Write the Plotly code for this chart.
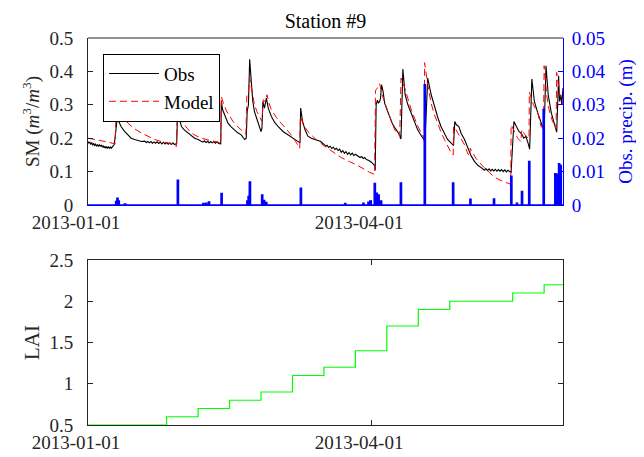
import pandas as pd
import plotly.graph_objects as go

# ---------------- data ----------------
start_date = "2013-01-01"
end_date = "2013-06-01"
date_ticks = ["2013-01-01", "2013-04-01"]

obs_day = [0, 0.3, 0.6, 0.9, 1.2, 1.5, 1.8, 2.1, 2.4, 2.7, 3.0, 3.3, 3.6, 3.9, 4.2, 4.5, 4.8, 5.1, 5.4, 5.7, 6.0, 6.3, 6.6, 6.9,
           7.2, 7.5, 7.8, 8.0, 8.3, 8.6, 8.9, 9.3,
           9.8, 10.5, 11.5, 12.7, 13.7, 14.8, 16, 17, 18, 18.5, 19, 19.5, 20, 20.5, 21, 21.5, 22, 22.5, 23, 23.5, 24, 24.5,
           25, 25.5, 26, 26.5, 27, 27.5, 28.2,
           28.5, 28.9, 29.7, 30.7, 31.8, 32.8, 33.9, 35, 36, 36.5, 37, 37.5, 38.1, 38.5, 39, 39.5, 40, 40.5, 41, 41.5, 42.2,
           42.4, 42.8, 43.4, 44.5, 45.5, 46.6, 47.6, 48.7, 49.8, 50.3,
           50.6, 51.0, 51.4, 51.9, 52.4, 52.9, 54.0, 55.0,
           55.3, 55.6, 56.1, 56.7, 57.3, 58.3, 59.3, 60.4, 62, 63.6, 65, 66.7, 67.4,
           67.6, 68.2, 69, 69.9, 71, 72, 73, 74, 75.2, 75.6, 76, 76.5, 77, 77.5, 78, 78.5, 79, 79.5, 80, 80.5, 81, 81.5, 82,
           82.5, 83, 83.5, 84, 84.5, 85, 85.8, 86.5, 87, 87.5, 88, 88.5, 89.3, 90.1, 91.2,
           91.3, 91.6, 92.0, 92.3, 92.7, 93.0, 93.3, 93.8, 94.3, 95.1, 95.9, 96.7, 97.5, 98.3, 99.1, 99.3,
           99.5, 100.1, 100.8, 101.7, 102.7, 103.8, 104.8, 105.9, 106.8,
           107.1, 108, 109.1, 110.1, 111.2, 112.2, 113.3, 114.3, 115.4, 116,
           116.2, 116.6, 117.1, 117.9, 118.6, 119.7, 120.8, 121.8, 122.9, 124, 125, 125.5, 126, 126.5, 127, 127.5, 128,
           128.5, 129, 129.5, 130, 130.5, 131, 131.5, 132, 132.5, 133, 133.5, 134.3,
           134.5, 135.4, 136.3, 137, 137.6, 138, 138.5, 139.2, 139.9,
           140.4, 141.1, 141.9, 143, 144, 144.8,
           145, 145.6, 146.3, 147.3, 148.3, 148.7,
           149, 149.6, 149.9, 150.3, 150.6, 151]
obs_sm = [0.19, 0.185, 0.188, 0.182, 0.186, 0.18, 0.184, 0.178, 0.182, 0.176, 0.181, 0.175, 0.18, 0.176, 0.179, 0.174, 0.178,
          0.171, 0.176, 0.17, 0.175, 0.17, 0.174, 0.17, 0.174, 0.17, 0.175, 0.176, 0.18, 0.2, 0.235, 0.262,
          0.25, 0.235, 0.222, 0.21, 0.2, 0.196, 0.193, 0.19, 0.191, 0.187, 0.19, 0.186, 0.19, 0.185, 0.189, 0.185, 0.189,
          0.184, 0.188, 0.183, 0.188, 0.183, 0.187, 0.182, 0.186, 0.181, 0.186, 0.181, 0.184,
          0.289, 0.262, 0.235, 0.224, 0.216, 0.207, 0.2, 0.196, 0.192, 0.188, 0.192, 0.187, 0.191, 0.186, 0.19, 0.186, 0.19,
          0.185, 0.189, 0.184, 0.183,
          0.31, 0.285, 0.27, 0.245, 0.234, 0.225, 0.216, 0.21, 0.196, 0.2,
          0.28, 0.3, 0.436, 0.37, 0.31, 0.28, 0.245, 0.22,
          0.23, 0.31, 0.29, 0.32, 0.29, 0.265, 0.248, 0.235, 0.22, 0.21, 0.2, 0.19, 0.186,
          0.29, 0.25, 0.225, 0.206, 0.2, 0.196, 0.192, 0.19, 0.18, 0.176, 0.179, 0.172, 0.176, 0.169, 0.173, 0.166, 0.17,
          0.163, 0.167, 0.158, 0.163, 0.155, 0.16, 0.152, 0.157, 0.15, 0.155, 0.148, 0.152, 0.146, 0.142, 0.145, 0.139,
          0.142, 0.136, 0.133, 0.128, 0.117, 0.103,
          0.3, 0.314, 0.305, 0.31, 0.32, 0.36, 0.34, 0.305, 0.284, 0.262, 0.245, 0.232, 0.22, 0.21, 0.2, 0.198,
          0.407, 0.33, 0.3, 0.275, 0.25, 0.225, 0.208, 0.196, 0.186,
          0.38, 0.33, 0.294, 0.262, 0.235, 0.212, 0.196, 0.186, 0.18, 0.178,
          0.25, 0.24, 0.235, 0.215, 0.196, 0.172, 0.147, 0.13, 0.118, 0.112, 0.108, 0.104, 0.109, 0.103, 0.108, 0.102,
          0.107, 0.102, 0.107, 0.101, 0.106, 0.101, 0.106, 0.1, 0.105, 0.099, 0.104, 0.1, 0.098,
          0.25, 0.235, 0.22, 0.215, 0.21, 0.2, 0.205, 0.185, 0.167,
          0.377, 0.31, 0.275, 0.245, 0.225, 0.22,
          0.417, 0.33, 0.275, 0.24, 0.22, 0.218,
          0.387, 0.31, 0.33, 0.3, 0.35, 0.27]

model_day = [0, 2, 4, 6, 8.6, 9.0, 9.6, 10.5, 11.6, 12.7, 14.8, 16.9, 19, 21.2, 23.3, 25.4, 28.1,
             28.4, 29.2, 30.2, 31.5, 32.8, 34.4, 36, 38.1, 40.3, 42.2,
             42.4, 43.2, 44.1, 45.1, 46.1, 47.4, 48.7, 50.2,
             50.5, 51.0, 51.4, 51.9, 52.4, 52.9, 53.7, 54.5, 55.3,
             55.7, 56.3, 56.9, 57.5, 58.3, 59.8, 61.4, 63, 64.6, 66, 67.3,
             67.5, 68.5, 69.9, 72.5, 75.2, 77.8, 80.5, 83.1, 85.8, 89.5, 91.1,
             91.4, 92.0, 92.7, 93.5, 94.8, 96.1, 97.5, 99.1,
             99.5, 100.6, 101.7, 102.8, 103.9, 104.9, 106.5, 106.9,
             107, 108, 109.1, 110.1, 111.2, 112.2, 113.3, 114.5, 115.7, 116.1,
             116.2, 116.7, 118.2, 119.7, 120.8, 121.4,
             121.5, 122.3, 123.3, 125.3, 127.2, 129.2, 131.3, 133.4, 134.4,
             134.5, 135.6, 136.6, 137.6, 137.9, 138.9, 139.9, 140.2,
             140.3, 141.6, 143, 144, 144.8,
             145, 145.8, 146.6, 147.5, 148.5, 148.8,
             149, 149.6, 150, 150.5, 151]
model_sm = [0.2, 0.197, 0.193, 0.189, 0.183, 0.302, 0.29, 0.275, 0.26, 0.245, 0.228, 0.216, 0.205, 0.196, 0.19, 0.186, 0.175,
            0.284, 0.262, 0.245, 0.23, 0.216, 0.207, 0.2, 0.195, 0.19, 0.186,
            0.325, 0.3, 0.28, 0.264, 0.25, 0.236, 0.225, 0.212,
            0.33, 0.34, 0.38, 0.355, 0.325, 0.3, 0.28, 0.265, 0.25,
            0.315, 0.31, 0.33, 0.305, 0.285, 0.263, 0.245, 0.228, 0.21, 0.19, 0.17,
            0.265, 0.24, 0.22, 0.196, 0.176, 0.158, 0.142, 0.13, 0.118, 0.098, 0.092,
            0.343, 0.35, 0.363, 0.33, 0.294, 0.26, 0.225, 0.206,
            0.38, 0.353, 0.318, 0.284, 0.258, 0.235, 0.206, 0.2,
            0.426, 0.36, 0.304, 0.27, 0.245, 0.218, 0.196, 0.172, 0.152, 0.15,
            0.235, 0.23, 0.205, 0.18, 0.152, 0.148,
            0.17, 0.155, 0.14, 0.118, 0.1, 0.083, 0.073, 0.064, 0.062,
            0.24, 0.22, 0.2, 0.19, 0.225, 0.21, 0.2, 0.198,
            0.338, 0.3, 0.275, 0.235, 0.23,
            0.417, 0.33, 0.284, 0.255, 0.23, 0.228,
            0.397, 0.35, 0.33, 0.32, 0.30]

precip_day = [8.8, 9.2, 9.6, 11.6, 28.4, 36.5, 37.4, 38.3, 42.3, 50.5, 50.9, 51.3, 55.2, 55.8, 56.5, 67.5,
              81.6, 87.4, 89.0, 89.6, 91.0, 91.6, 92.2, 93.0, 99.3, 106.9, 115.9, 121.4, 128.9,
              134.4, 136.2, 137.8, 140.1, 144.7, 148.4, 149.0, 149.6, 150.1]
precip_m = [0.001, 0.002, 0.0012, 0.0003, 0.0074, 0.0004, 0.0005, 0.0009, 0.0034, 0.0012, 0.0025, 0.0069, 0.003, 0.0013, 0.0007, 0.005,
            0.0004, 0.0005, 0.0008, 0.0012, 0.0064, 0.0035, 0.003, 0.0012, 0.0066, 0.036, 0.0066, 0.0017, 0.0018,
            0.0086, 0.0005, 0.004, 0.013, 0.0286, 0.0093, 0.0092, 0.0123, 0.0118]
precip_duration_day = 0.35

lai_date = ["2013-01-01", "2013-01-06", "2013-01-16", "2013-01-26", "2013-02-05", "2013-02-15", "2013-02-25",
            "2013-03-07", "2013-03-17", "2013-03-27", "2013-04-06", "2013-04-16", "2013-04-26", "2013-05-06",
            "2013-05-16", "2013-05-26", "2013-06-01"]
lai_val = [0.5, 0.5, 0.5, 0.6, 0.7, 0.8, 0.9, 1.1, 1.2, 1.4, 1.7, 1.9, 2.0, 2.0, 2.1, 2.2, 2.2]

# ---------------- build ----------------
base = pd.Timestamp(start_date)


def to_dates(days):
    return base + pd.to_timedelta(pd.Series(days, dtype=float), unit="D")


# precipitation drawn as a line with flat rain pulses over a zero baseline
p_days = [0.0]
p_vals = [0.0]
for d, v in zip(precip_day, precip_m):
    p_days += [d, d, d + precip_duration_day, d + precip_duration_day]
    p_vals += [0.0, v, v, 0.0]
p_days.append((pd.Timestamp(end_date) - base).days)
p_vals.append(0.0)

FONT = "Liberation Serif"
AX = "#262626"
FS = 19

fig = go.Figure()
fig.add_trace(go.Scatter(x=to_dates(p_days), y=p_vals, mode="lines", line=dict(color="blue", width=1.6),
                         fill="tozeroy", fillcolor="blue", xaxis="x", yaxis="y2", showlegend=False))
fig.add_trace(go.Scatter(x=to_dates(obs_day), y=obs_sm, mode="lines", name="Obs",
                         line=dict(color="black", width=1.1), xaxis="x", yaxis="y"))
fig.add_trace(go.Scatter(x=to_dates(model_day), y=model_sm, mode="lines", name="Model",
                         line=dict(color="red", width=1, dash="7px,4px"), xaxis="x", yaxis="y"))
fig.add_trace(go.Scatter(x=pd.to_datetime(lai_date), y=lai_val, mode="lines", line_shape="hv",
                         line=dict(color="#00ff00", width=1.2), xaxis="x2", yaxis="y3", showlegend=False))

top_dom = [(424 - 200) / 394, 1.0]
bot_dom = [0.0, (424 - 256) / 394]

common_x = dict(type="date", range=[start_date, end_date], tickmode="array", tickvals=date_ticks,
                ticktext=date_ticks, ticks="inside", ticklen=5, showgrid=False, zeroline=False,
                tickfont=dict(family=FONT, size=FS, color=AX), tickcolor=AX, ticklabelshift=-12)

fig.update_layout(
    width=644, height=457,
    margin=dict(l=80, r=89, t=30, b=33),
    paper_bgcolor="white", plot_bgcolor="white",
    font=dict(family=FONT, size=FS, color=AX),
    title=dict(text="Station #9", x=0.5, xref="paper", xanchor="center", y=1 - 13 / 457, yref="container",
               yanchor="middle", font=dict(family=FONT, size=FS + 1, color="black")),
    xaxis=dict(**common_x, domain=[0, 1], anchor="y", showline=True, linecolor="blue", linewidth=1,
               mirror=False, layer="below traces"),
    yaxis=dict(domain=top_dom, anchor="x", range=[0, 0.5], tickvals=[0, 0.1, 0.2, 0.3, 0.4, 0.5],
               ticktext=["0", "0.1", "0.2", "0.3", "0.4", "0.5"], ticks="inside", ticklen=5,
               showline=True, linecolor=AX, tickcolor=AX, showgrid=False, zeroline=False,
               tickfont=dict(family=FONT, size=FS, color=AX), ticklabelstandoff=10,
               title=dict(text="SM (<i>m</i><sup>3</sup>/<i>m</i><sup>3</sup>)", standoff=4,
                          font=dict(family=FONT, size=FS, color=AX))),
    yaxis2=dict(overlaying="y", side="right", anchor="x", range=[0, 0.05],
                tickvals=[0, 0.01, 0.02, 0.03, 0.04, 0.05], ticktext=["0", "0.01", "0.02", "0.03", "0.04", "0.05"],
                ticks="inside", ticklen=5, showline=True, linecolor="blue", tickcolor="blue",
                showgrid=False, zeroline=False, tickfont=dict(family=FONT, size=FS, color="blue"),
                ticklabelstandoff=4,
                title=dict(text="Obs. precip. (m)", standoff=14, font=dict(family=FONT, size=FS, color="blue"))),
    xaxis2=dict(**common_x, domain=[0, 1], anchor="y3", showline=True, linecolor=AX, mirror="ticks",
                layer="below traces"),
    yaxis3=dict(domain=bot_dom, anchor="x2", range=[0.5, 2.5], tickvals=[0.5, 1, 1.5, 2, 2.5],
                ticktext=["0.5", "1", "1.5", "2", "2.5"], ticks="inside", ticklen=5, showline=True,
                linecolor=AX, tickcolor=AX, mirror="ticks", showgrid=False, zeroline=False,
                tickfont=dict(family=FONT, size=FS, color=AX), ticklabelstandoff=10,
                title=dict(text="LAI", standoff=4, font=dict(family=FONT, size=FS + 2, color=AX))),
    legend=dict(x=(95 - 80) / 475, y=(424 - 46) / 394, xanchor="left", yanchor="top",
                bgcolor="white", bordercolor="black", borderwidth=1, itemwidth=50,
                font=dict(family=FONT, size=FS, color="black"), tracegroupgap=0),
    shapes=[dict(type="line", xref="paper", yref="paper", x0=0, x1=1, y0=1, y1=1,
                 line=dict(color=AX, width=1))],
)

fig.write_html("out.html")
